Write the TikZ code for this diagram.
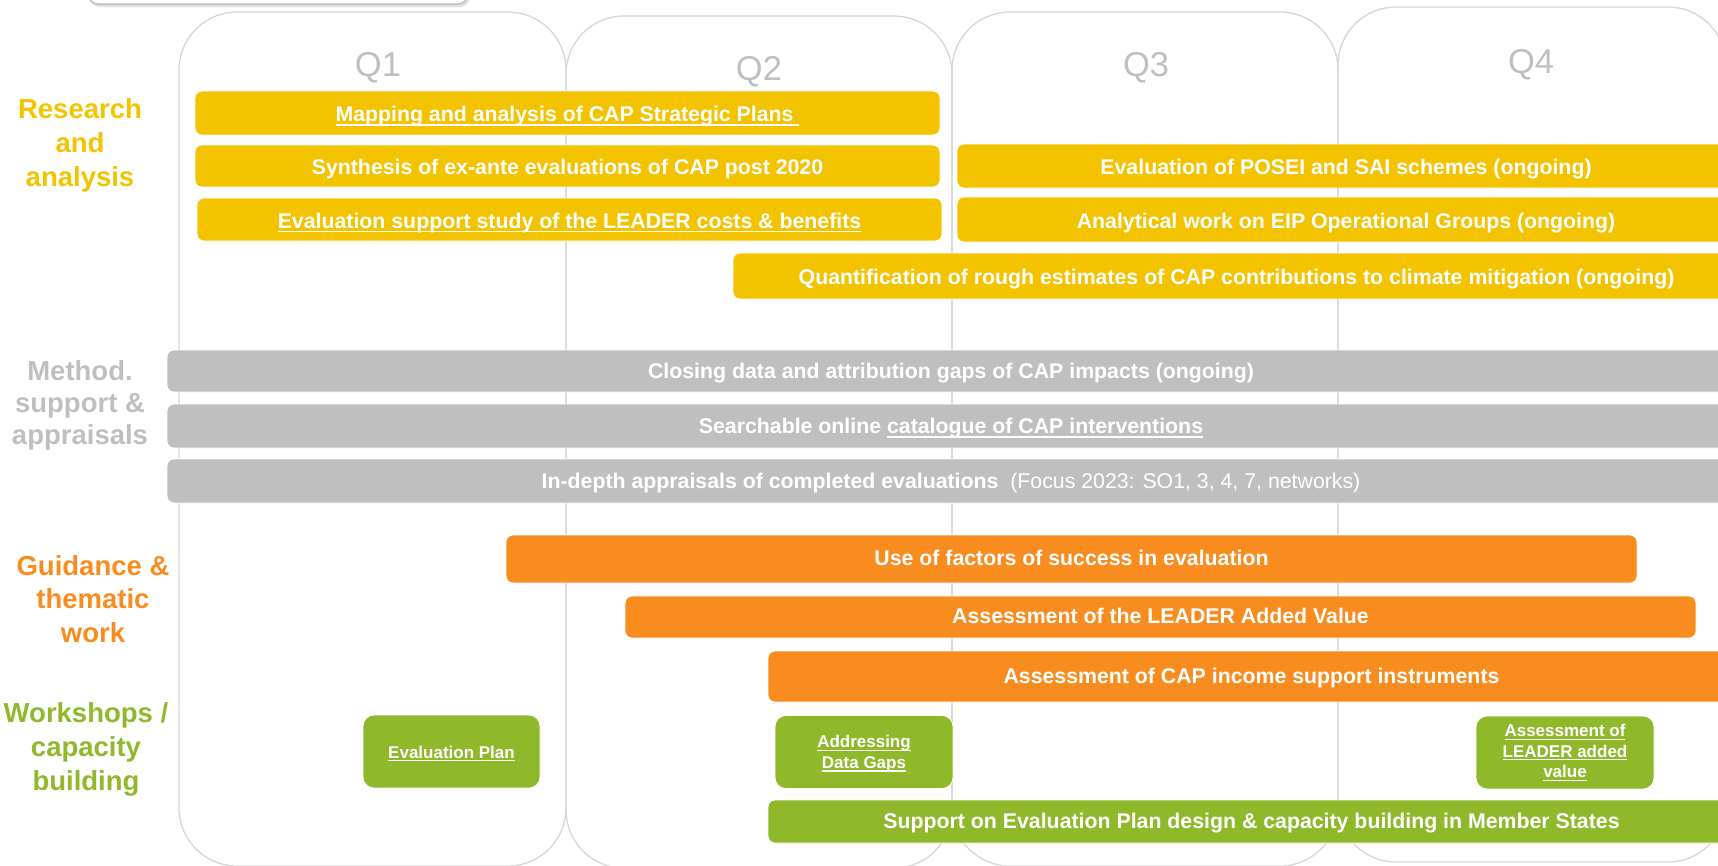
\documentclass[tikz,border=0pt]{standalone}
\usepackage{fontspec}
\setmainfont{Liberation Sans}
\definecolor{cyel}{HTML}{F4C300}
\definecolor{cora}{HTML}{F98C1F}
\definecolor{cgrn}{HTML}{8FB82B}
\definecolor{cgry}{HTML}{BFBFBF}
\definecolor{ccol}{HTML}{D6D6D6}
\newsavebox\ulbox
\newcommand\ulx[1]{\sbox\ulbox{#1}\leavevmode\rlap{\vrule width\wd\ulbox height -0.12em depth 0.19em}\usebox\ulbox}
\tikzset{
  colbox/.style={draw=ccol, line width=1.3pt, rounded corners=58pt},
  qlab/.style={text=cgry, font=\fontsize{34.5}{40}\selectfont},
  barbase/.style={draw=white, line width=0.8pt, rounded corners=7pt, text=white, inner sep=0pt,
     font=\fontsize{21.3}{25}\selectfont\bfseries},
  onebar/.style={barbase, text height=17pt, text depth=0pt},
  ybar/.style={onebar, fill=cyel},
  gbar/.style={onebar, fill=cgry, text height=15pt},
  obar/.style={onebar, fill=cora, text height=13.5pt},
  grbar/.style={onebar, fill=cgrn, text height=13.5pt},
  gbox/.style={barbase, fill=cgrn, rounded corners=11pt, align=center,
     font=\fontsize{17}{20.5}\selectfont\bfseries},
  catlab/.style={align=center, font=\fontsize{27.5}{34}\selectfont\bfseries}
}
\begin{document}
\begin{tikzpicture}[x=1pt,y=-1pt]
\useasboundingbox (0,0) rectangle (1718,865);
\clip (0,0) rectangle (1718,865);
% top-left partial box
\fill[black!12, rounded corners=10pt] (90,-30) rectangle (470,7);
\draw[draw=cgry, fill=white, line width=1.5pt, rounded corners=10pt] (88,-30) rectangle (468,4);
% quarter columns
\draw[colbox] (179,12) rectangle (566,866);
\draw[colbox] (566,16) rectangle (952,868);
\draw[colbox] (952,12) rectangle (1338,866);
\draw[colbox] (1338,7) rectangle (1726,862);
\node[qlab] (q1) at (378,67.5) {Q1};
\node[qlab] (q2) at (759,71.5) {Q2};
\node[qlab] (q3) at (1146,67.5) {Q3};
\node[qlab] (q4) at (1531,64.5) {Q4};
% category labels
\node[catlab, text=cyel] (cra) at (80,145) {Research\\and\\analysis};
\node[catlab, text=cgry, font=\fontsize{27.5}{32}\selectfont\bfseries] (cms) at (80,405) {Method.\\support \&\\appraisals};
\node[catlab, text=cora, font=\fontsize{27.5}{33.5}\selectfont\bfseries] (cgt) at (93,599) {Guidance \&\\thematic\\work};
\node[catlab, text=cgrn] (cws) at (86,749) {Workshops /\\capacity\\building};
% research bars
\node[ybar, minimum width=745pt, minimum height=44pt] (b1) at (567.5,113) {\ulx{Mapping and analysis of CAP Strategic Plans }};
\node[ybar, minimum width=745pt, minimum height=42pt] (b2) at (567.5,166) {Synthesis of ex-ante evaluations of CAP post 2020};
\node[ybar, minimum width=745pt, minimum height=43pt] (b3) at (569.5,219.5) {\ulx{Evaluation support study of the LEADER costs \& benefits}};
\node[ybar, minimum width=778pt, minimum height=44pt] (b4) at (1346,166) {Evaluation of POSEI and SAI schemes (ongoing)};
\node[ybar, minimum width=778pt, minimum height=45pt] (b5) at (1346,219.5) {Analytical work on EIP Operational Groups (ongoing)};
\node[ybar, minimum width=1007pt, minimum height=46pt] (b6) at (1236.5,276) {Quantification of rough estimates of CAP contributions to climate mitigation (ongoing)};
% method bars
\node[gbar, minimum width=1568pt, minimum height=42pt] (b7) at (951,371) {Closing data and attribution gaps of CAP impacts (ongoing)};
\node[gbar, minimum width=1568pt, minimum height=44pt] (b8) at (951,426) {Searchable online \ulx{catalogue of CAP interventions}};
\node[gbar, minimum width=1568pt, minimum height=44pt] (b9) at (951,481) {In-depth appraisals of completed evaluations\ \ {\mdseries(Focus 2023: SO1, 3, 4, 7, networks)}};
% guidance bars
\node[obar, minimum width=1131pt, minimum height=48pt] (b10) at (1071.5,559) {Use of factors of success in evaluation};
\node[obar, minimum width=1071pt, minimum height=42pt] (b11) at (1160.5,617) {Assessment of the LEADER Added Value};
\node[obar, minimum width=967pt, minimum height=51pt] (b12) at (1251.5,676.5) {Assessment of CAP income support instruments};
% workshops
\node[gbox, minimum width=177pt, minimum height=73pt] (w1) at (451.5,751.5) {\raisebox{-2pt}[\height][\depth]{\ulx{Evaluation Plan}}};
\node[gbox, minimum width=178pt, minimum height=73pt] (w2) at (864,752) {\raisebox{-2pt}[\height][\depth]{\begin{tabular}{@{}c@{}}\ulx{Addressing}\\\ulx{Data Gaps}\end{tabular}}};
\node[gbox, minimum width=178pt, minimum height=73pt] (w3) at (1565,752.5) {\ulx{Assessment of}\\\ulx{LEADER added}\\\ulx{value}};
\node[grbar, minimum width=967pt, minimum height=43pt] (b16) at (1251.5,821.5) {Support on Evaluation Plan design \& capacity building in Member States};
\end{tikzpicture}
\end{document}
